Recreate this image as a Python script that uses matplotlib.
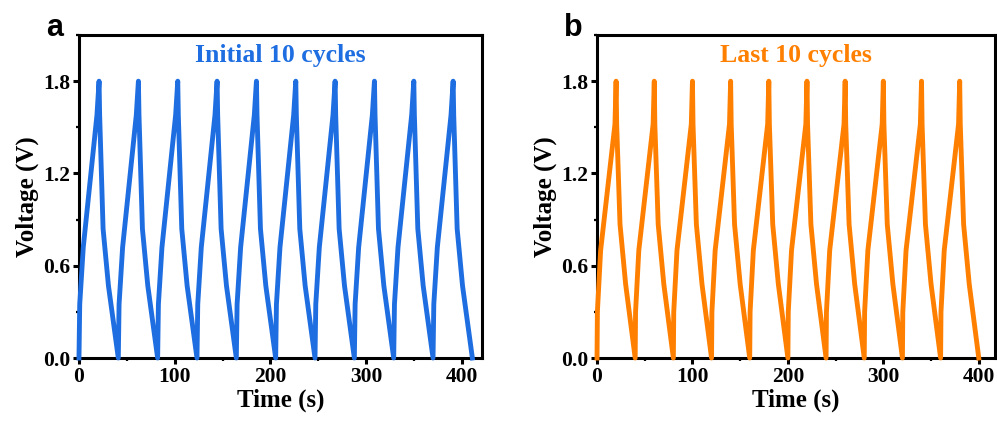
import matplotlib.pyplot as plt
from matplotlib.ticker import MultipleLocator
import numpy as np

# one charge/discharge cycle (time in s from cycle start, volts)
cycle_t_a = [0, 0.8, 4.5, 18.8, 21.0, 21.6, 25.2, 30.8, 41.1]
cycle_v_a = [0, 0.35, 0.72, 1.58, 1.80, 1.58, 0.84, 0.47, 0.0]
starts_a = [0, 41.1, 82.2, 123.3, 164.4, 205.5, 246.6, 287.7, 328.8, 369.9]

cycle_t_b = [0, 0.4, 3.8, 18.8, 20.0, 20.6, 24.1, 30.0, 40.0]
cycle_v_b = [0, 0.30, 0.70, 1.52, 1.80, 1.52, 0.87, 0.48, 0.0]
starts_b = [0, 40, 80, 120, 160, 200, 240, 280, 320, 360]

titles = ['Initial 10 cycles', 'Last 10 cycles']
letters = ['a', 'b']
colors = ['#1E6EE1', '#FF8000']
xmax = [421, 417]


def build(starts, ct, cv):
    t, v = [], []
    for i, s in enumerate(starts):
        k = 0 if i == 0 else 1
        t += [s + x for x in ct[k:]]
        v += cv[k:]
    return np.array(t), np.array(v)


plt.rcParams['font.family'] = 'Liberation Serif'
plt.rcParams['font.weight'] = 'bold'

fig = plt.figure(figsize=(9.97, 4.21), dpi=100)
rects = [[0.0792, 0.1496, 0.4042, 0.7672], [0.5988, 0.1496, 0.3992, 0.7672]]
data = [build(starts_a, cycle_t_a, cycle_v_a), build(starts_b, cycle_t_b, cycle_v_b)]

for i in range(2):
    ax = fig.add_axes(rects[i])
    t, v = data[i]
    ax.plot(t, v, color=colors[i], lw=3.5, solid_joinstyle='round', clip_on=False, zorder=3)
    ax.set_xlim(0, xmax[i])
    ax.set_ylim(0, 2.1)
    ax.xaxis.set_major_locator(MultipleLocator(100))
    ax.xaxis.set_minor_locator(MultipleLocator(50))
    ax.yaxis.set_major_locator(MultipleLocator(0.6))
    ax.yaxis.set_minor_locator(MultipleLocator(0.3))
    ax.yaxis.set_major_formatter(plt.FuncFormatter(lambda y, p: '%.1f' % y))
    for sp in ax.spines.values():
        sp.set_linewidth(2.2)
    ax.tick_params(which='major', direction='out', length=4.5, width=2.2, labelsize=15.5, pad=2)
    ax.tick_params(which='minor', direction='out', length=2.5, width=1.6)
    ax.set_xlabel('Time (s)', fontsize=18, fontweight='bold', labelpad=1)
    ax.set_ylabel('Voltage (V)', fontsize=18, fontweight='bold', labelpad=3)
    ax.text(0.5, 0.938, titles[i], transform=ax.transAxes, ha='center', va='center',
            fontsize=18.5, fontweight='bold', color=colors[i])
    fig.text([54.5, 573][i] / 997, 1 - 28 / 421, letters[i], ha='center', va='center',
             fontsize=22, fontweight='bold', family='Liberation Sans')

fig.savefig('out.png', dpi=100)
